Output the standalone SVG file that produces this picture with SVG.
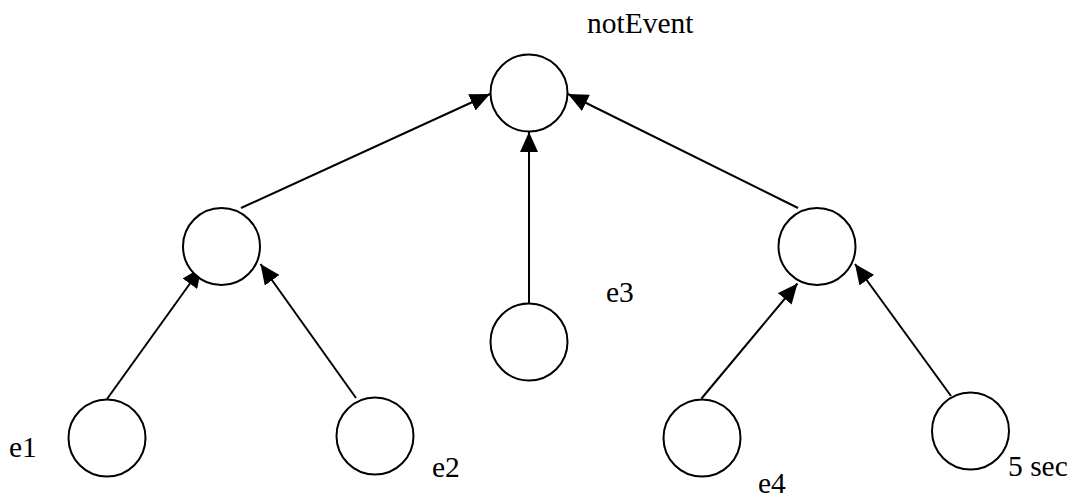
<svg xmlns="http://www.w3.org/2000/svg" width="1078" height="498" viewBox="0 0 1078 498">
<defs>
<style>
.node circle{fill:#fff;stroke:#000;stroke-width:2}
.edge line{stroke:#000;stroke-width:2;marker-end:url(#arr)}
text{font-family:'Liberation Serif','DejaVu Serif',serif;font-size:29.5px;fill:#000}
</style>
<marker id="arr" markerUnits="userSpaceOnUse" markerWidth="20" markerHeight="18" refX="20" refY="9" orient="auto">
<path d="M0,0 L20,9 L0,18 z" fill="#000"/>
</marker>
</defs>
<rect width="1078" height="498" fill="#fff"/>
<g id="connectors" class="edge">
<line x1="241" y1="208" x2="490" y2="94"/>
<line x1="529" y1="303" x2="529" y2="132"/>
<line x1="798" y1="208" x2="568" y2="94"/>
<line x1="107" y1="399" x2="201.5" y2="267.5"/>
<line x1="356" y1="398" x2="260.5" y2="264"/>
<line x1="701.5" y1="398.5" x2="797.5" y2="283.5"/>
<line x1="951" y1="396" x2="855" y2="264"/>
</g>
<g id="notEvent" class="node"><circle cx="529" cy="93" r="38.5"/><text x="587" y="33">notEvent</text></g>
<g id="mid-left" class="node"><circle cx="221.5" cy="246.5" r="38.5"/></g>
<g id="mid-right" class="node"><circle cx="817" cy="246.5" r="38.5"/></g>
<g id="e3" class="node"><circle cx="529" cy="342" r="38.5"/><text x="606" y="302">e3</text></g>
<g id="e1" class="node"><circle cx="107" cy="438" r="38.5"/><text x="9" y="457">e1</text></g>
<g id="e2" class="node"><circle cx="375" cy="436" r="38.5"/><text x="432" y="477">e2</text></g>
<g id="e4" class="node"><circle cx="702" cy="438" r="38.5"/><text x="758" y="493">e4</text></g>
<g id="sec5" class="node"><circle cx="970.5" cy="431" r="38.5"/><text x="1008" y="476">5 sec</text></g>
</svg>
